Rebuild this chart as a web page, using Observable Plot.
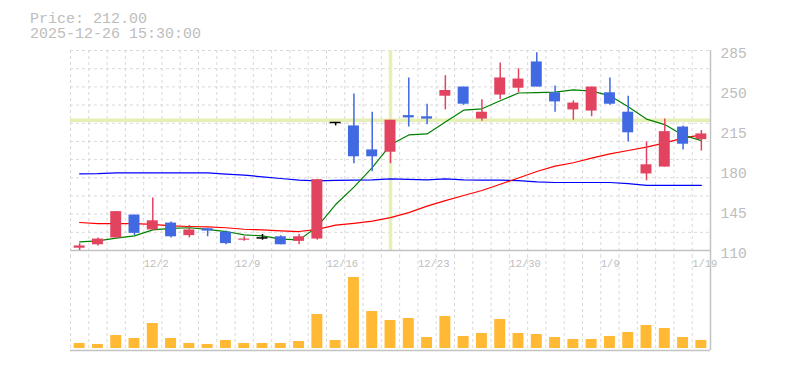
<!DOCTYPE html>
<html><head><meta charset="utf-8">
<script src="https://cdn.jsdelivr.net/npm/d3@7"></script>
<script src="https://cdn.jsdelivr.net/npm/@observablehq/plot@0.6"></script>
<style>
body{margin:0;background:#fff;}
#wrap{position:relative;width:785px;height:370px;overflow:hidden;}
#title{position:absolute;left:30px;top:11.5px;font-family:"Liberation Mono",monospace;font-size:15px;line-height:15px;color:#bdbdbd;white-space:pre;}
svg{display:block;}
</style></head><body>
<div id="wrap"><div id="chart"></div><div id="title"></div></div>
<script>
// ---- data ----
const dates = ["11/26","11/27","11/28","12/1","12/2","12/3","12/4","12/5","12/8","12/9","12/10","12/11","12/12","12/15","12/16","12/17","12/18","12/19","12/22","12/23","12/24","12/25","12/26","12/29","12/30","1/5","1/6","1/7","1/8","1/9","1/13","1/14","1/15","1/16","1/19"];
const opens  = [112,115,121,141,128,134,123,129,126,119,121,122,118,120,222,219,198,196,228,227,245,253,225,246,252,275,248,233,232,248,231,177,183,218,207];
const highs  = [116,121,144,141,156,135,132,129,127,122,124,123,124,172,222,247,231,224,261,238,263,253,242,274,269,283,254,241,253,261,245,205,225,219,215];
const lows   = [110,114,121,123,128,121,121,122,115,118,119,115,115,119,219,186,179,186,218,220,233,237,223,242,248,253,231,224,227,237,205,171,183,198,197];
const closes = [114,120,144,125,136,122,128,127,116,120,121,115,122,172,222,192,192,224,226,225,250,238,231,261,260,253,240,239,253,238,213,185,214,203,212];
const ma5  = [117.6,118.5,120.8,122.8,128.1,129.3,129.9,128.4,126.6,123.7,122.8,119.9,119.3,130.8,150.2,165.5,182.5,202.5,211.1,212.0,222.5,232.8,234.0,241.0,247.8,248.2,248.6,250.5,249.5,245.5,235.8,225.0,220.2,210.9,206.2];
const ma25 = [134.5,133.6,133.6,133.6,132.8,131.6,131.0,130.7,129.9,128.6,128.1,127.2,126.6,128.5,132.2,133.8,135.7,138.8,143.1,148.8,153.7,158.1,162.5,168.0,173.4,179.1,183.8,186.8,190.8,194.6,197.5,200.4,204.2,208.3,211.2];
const ma75 = [177.1,177.2,178.0,178.0,178.0,178.0,178.0,178.0,176.9,175.9,174.5,173.0,171.6,171.0,171.4,171.5,171.8,172.7,172.2,171.8,172.6,171.8,171.6,171.6,171.2,170.1,169.5,169.5,169.5,169.5,168.6,167.0,166.9,166.9,166.9];
const volumes = [50,40,130,100,250,100,50,40,80,50,50,50,70,340,80,710,370,280,300,110,320,120,150,290,150,140,110,90,90,120,160,230,200,110,80];
const priceTicks = [110,145,180,215,250,285];
const dateTicks = ["12/2","12/9","12/16","12/23","12/30","1/9","1/19"];
const titleLines = ["Price: 212.00","2025-12-26 15:30:00"];
const crossDate = "12/19";

document.getElementById("title").textContent = titleLines.join("\n");

const n = dates.length;
const rows = dates.map((date, i) => ({i, date, open: opens[i], high: highs[i], low: lows[i], close: closes[i],
  ma5: ma5[i], ma25: ma25[i], ma75: ma75[i], volume: volumes[i]}));
const UP = "#e2445f", DOWN = "#4169e1";
const col = d => d.close > d.open ? UP : d.close < d.open ? DOWN : "#000";
const GRID = "#d9d9d9", AXIS = "#c2c2c2", TEXT = "#bdbdbd", CROSS = "#e6f0b4";
const half = 0.3;
const yMin = priceTicks[0], yMax = priceTicks[priceTicks.length - 1];
const gridY = d3.range(1, 12).map(k => yMin + k * (yMax - yMin) / 11);
const cross = rows.filter(d => d.date === crossDate);
const xScale = {type: "linear", domain: [-0.5, n - 0.5], axis: null};

const price = Plot.plot({
  width: 785, height: 255, marginLeft: 70, marginRight: 75, marginTop: 50, marginBottom: 5,
  style: {fontFamily: "Liberation Mono", background: "transparent", overflow: "visible"},
  x: xScale,
  y: {domain: [yMin, yMax], axis: null},
  marks: [
    Plot.ruleX(rows, {x: d => d.i - 0.5, stroke: GRID, strokeDasharray: "3,3", insetBottom: -5}),
    Plot.ruleY(gridY, {stroke: GRID, strokeDasharray: "3,3"}),
    Plot.ruleX(cross, {x: "i", stroke: CROSS, strokeWidth: 3.5}),
    Plot.ruleY(cross, {y: "close", stroke: CROSS, strokeWidth: 3.5}),
    Plot.ruleY([yMin], {stroke: AXIS, strokeWidth: 1.5}),
    Plot.ruleX([n - 0.5], {stroke: AXIS, strokeWidth: 1.5, insetBottom: -5}),
    Plot.line(rows, {x: "i", y: "ma75", stroke: "#0000ff", strokeWidth: 1.2}),
    Plot.line(rows, {x: "i", y: "ma25", stroke: "#ff0000", strokeWidth: 1.2}),
    Plot.line(rows, {x: "i", y: "ma5", stroke: "#008000", strokeWidth: 1.2}),
    Plot.ruleX(rows, {x: "i", y1: "low", y2: "high", stroke: col, strokeWidth: 1.5}),
    Plot.rectY(rows.filter(d => d.open !== d.close), {x1: d => d.i - half, x2: d => d.i + half, y1: "open", y2: "close", fill: col}),
    Plot.ruleY(rows.filter(d => d.open === d.close), {y: "close", x1: d => d.i - half, x2: d => d.i + half, stroke: "#000", strokeWidth: 1.5}),
    Plot.axisY(priceTicks, {anchor: "right", tickSize: 0, tickPadding: 10, fontSize: 14.5, fill: TEXT, dy: 3})
  ]
});

const vol = Plot.plot({
  width: 785, height: 115, marginLeft: 70, marginRight: 75, marginTop: 7, marginBottom: 20,
  style: {fontFamily: "Liberation Mono", background: "transparent", overflow: "visible"},
  x: xScale,
  y: {domain: [0, 860], insetBottom: 2, axis: null},
  marks: [
    Plot.ruleX(rows, {x: d => d.i - 0.5, stroke: GRID, strokeDasharray: "3,3", insetTop: -7}),
    Plot.rectY(rows, {x1: d => d.i - half, x2: d => d.i + half, y1: 0, y2: "volume", fill: "#ffb935"}),
    Plot.ruleY([0], {stroke: AXIS, strokeWidth: 1.5, dy: 2}),
    Plot.ruleX([n - 0.5], {stroke: AXIS, strokeWidth: 1.5, insetTop: -7}),
    Plot.text(rows.filter(d => dateTicks.includes(d.date)), {x: d => d.i - 0.5, text: "date", frameAnchor: "top",
      textAnchor: "start", lineAnchor: "middle", dy: 1, fontSize: 10.5, fill: TEXT})
  ]
});

const chart = document.getElementById("chart");
chart.appendChild(price);
chart.appendChild(vol);
</script>
</body></html>
